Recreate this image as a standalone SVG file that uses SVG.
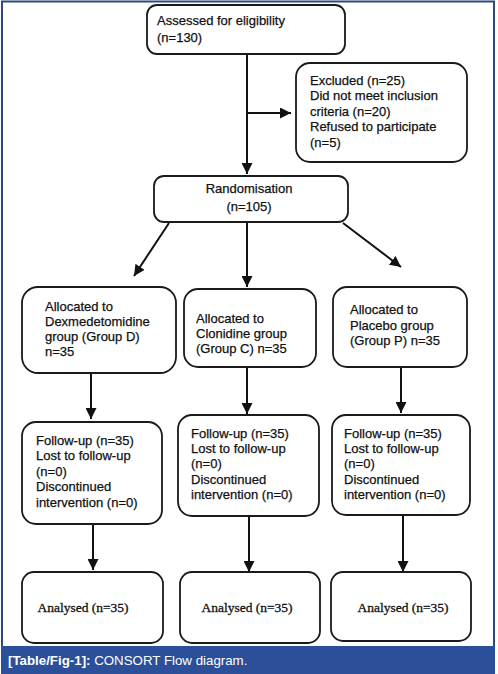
<svg xmlns="http://www.w3.org/2000/svg" width="498" height="674" viewBox="0 0 498 674">
<defs>
<marker id="ah" viewBox="0 0 10 10" refX="10" refY="5" markerWidth="5.5" markerHeight="5.5" orient="auto" markerUnits="strokeWidth">
<path d="M0,0 L10,5 L0,10 Z" fill="#111"/>
</marker>
<style>
.box{fill:#fff;stroke:#1a1a1a;stroke-width:1.8}
.t{font-family:"Liberation Sans",Arial,sans-serif;font-size:13px;fill:#111;stroke:#111;stroke-width:0.25}
.s{font-family:"Liberation Serif","Times New Roman",serif;font-size:13.5px;fill:#111;stroke:#111;stroke-width:0.3}
.c{stroke:#111;stroke-width:2;fill:none;marker-end:url(#ah)}
</style>
</defs>
<rect x="0" y="0" width="498" height="674" fill="#fff"/>
<rect x="2" y="1.5" width="492" height="660" fill="none" stroke="#2c4a7e" stroke-width="2"/>
<rect x="1" y="646" width="494" height="28" fill="#2b4f99"/>
<text x="8" y="665" font-family="Liberation Sans,Arial,sans-serif" font-size="13.3" fill="#fff"><tspan font-weight="bold">[Table/Fig-1]:</tspan> CONSORT Flow diagram.</text>

<g id="connectors">
<line class="c" x1="247" y1="54" x2="247" y2="174"/>
<line class="c" x1="247" y1="113" x2="291" y2="113"/>
<line class="c" x1="169" y1="223" x2="134" y2="276"/>
<line class="c" x1="247" y1="222" x2="247" y2="287"/>
<line class="c" x1="343" y1="223" x2="401" y2="267"/>
<line class="c" x1="91" y1="373" x2="91" y2="419"/>
<line class="c" x1="247" y1="367" x2="247" y2="414"/>
<line class="c" x1="401" y1="367" x2="401" y2="413"/>
<line class="c" x1="93" y1="524" x2="93" y2="570"/>
<line class="c" x1="249" y1="516" x2="249" y2="572"/>
<line class="c" x1="403" y1="515" x2="403" y2="572"/>
</g>

<g id="assessed">
<rect class="box" x="147" y="5" width="198" height="49" rx="10"/>
<text class="t" x="157" y="25">Assessed for eligibility</text>
<text class="t" x="157" y="42">(n=130)</text>
</g>

<g id="excluded">
<rect class="box" x="296" y="63" width="171" height="99" rx="14"/>
<text class="t" x="310" y="85">Excluded (n=25)</text>
<text class="t" x="310" y="100">Did not meet inclusion</text>
<text class="t" x="310" y="116">criteria (n=20)</text>
<text class="t" x="310" y="131">Refused to participate</text>
<text class="t" x="310" y="147"> (n=5)</text>
</g>

<g id="randomisation">
<rect class="box" x="154" y="176" width="194" height="46" rx="10"/>
<text class="t" x="249" y="193" text-anchor="middle">Randomisation</text>
<text class="t" x="249" y="211" text-anchor="middle">(n=105)</text>
</g>

<g id="allocD">
<rect class="box" x="22" y="287" width="154" height="86" rx="16"/>
<text class="t" x="45" y="311">Allocated to</text>
<text class="t" x="45" y="326">Dexmedetomidine</text>
<text class="t" x="45" y="341">group (Group D)</text>
<text class="t" x="45" y="356">n=35</text>
</g>

<g id="allocC">
<rect class="box" x="184" y="289" width="132" height="78" rx="14"/>
<text class="t" x="196" y="323">Allocated to</text>
<text class="t" x="196" y="338">Clonidine group</text>
<text class="t" x="196" y="353">(Group C) n=35</text>
</g>

<g id="allocP">
<rect class="box" x="333" y="287" width="134" height="80" rx="14"/>
<text class="t" x="350" y="314">Allocated to</text>
<text class="t" x="350" y="330">Placebo group</text>
<text class="t" x="350" y="345"> (Group P) n=35</text>
</g>

<g id="followD">
<rect class="box" x="22" y="422" width="140" height="102" rx="14"/>
<text class="t" x="36" y="445">Follow-up (n=35)</text>
<text class="t" x="36" y="460">Lost to follow-up</text>
<text class="t" x="36" y="476">(n=0)</text>
<text class="t" x="36" y="491">Discontinued</text>
<text class="t" x="36" y="507">intervention (n=0)</text>
</g>

<g id="followC">
<rect class="box" x="178" y="415" width="141" height="101" rx="14"/>
<text class="t" x="191" y="438">Follow-up (n=35)</text>
<text class="t" x="191" y="453">Lost to follow-up</text>
<text class="t" x="191" y="468">(n=0)</text>
<text class="t" x="191" y="484">Discontinued</text>
<text class="t" x="191" y="499">intervention (n=0)</text>
</g>

<g id="followP">
<rect class="box" x="332" y="415" width="138" height="100" rx="14"/>
<text class="t" x="344" y="438">Follow-up (n=35)</text>
<text class="t" x="344" y="453">Lost to follow-up</text>
<text class="t" x="344" y="468">(n=0)</text>
<text class="t" x="344" y="484">Discontinued</text>
<text class="t" x="344" y="499">intervention (n=0)</text>
</g>

<g id="analysedD">
<rect class="box" x="22" y="572" width="141" height="71" rx="12"/>
<text class="s" x="83" y="612" text-anchor="middle">Analysed (n=35)</text>
</g>

<g id="analysedC">
<rect class="box" x="180" y="572" width="140" height="71" rx="12"/>
<text class="s" x="247" y="612" text-anchor="middle">Analysed (n=35)</text>
</g>

<g id="analysedP">
<rect class="box" x="331" y="572" width="140" height="69" rx="12"/>
<text class="s" x="403" y="612" text-anchor="middle">Analysed (n=35)</text>
</g>
</svg>
